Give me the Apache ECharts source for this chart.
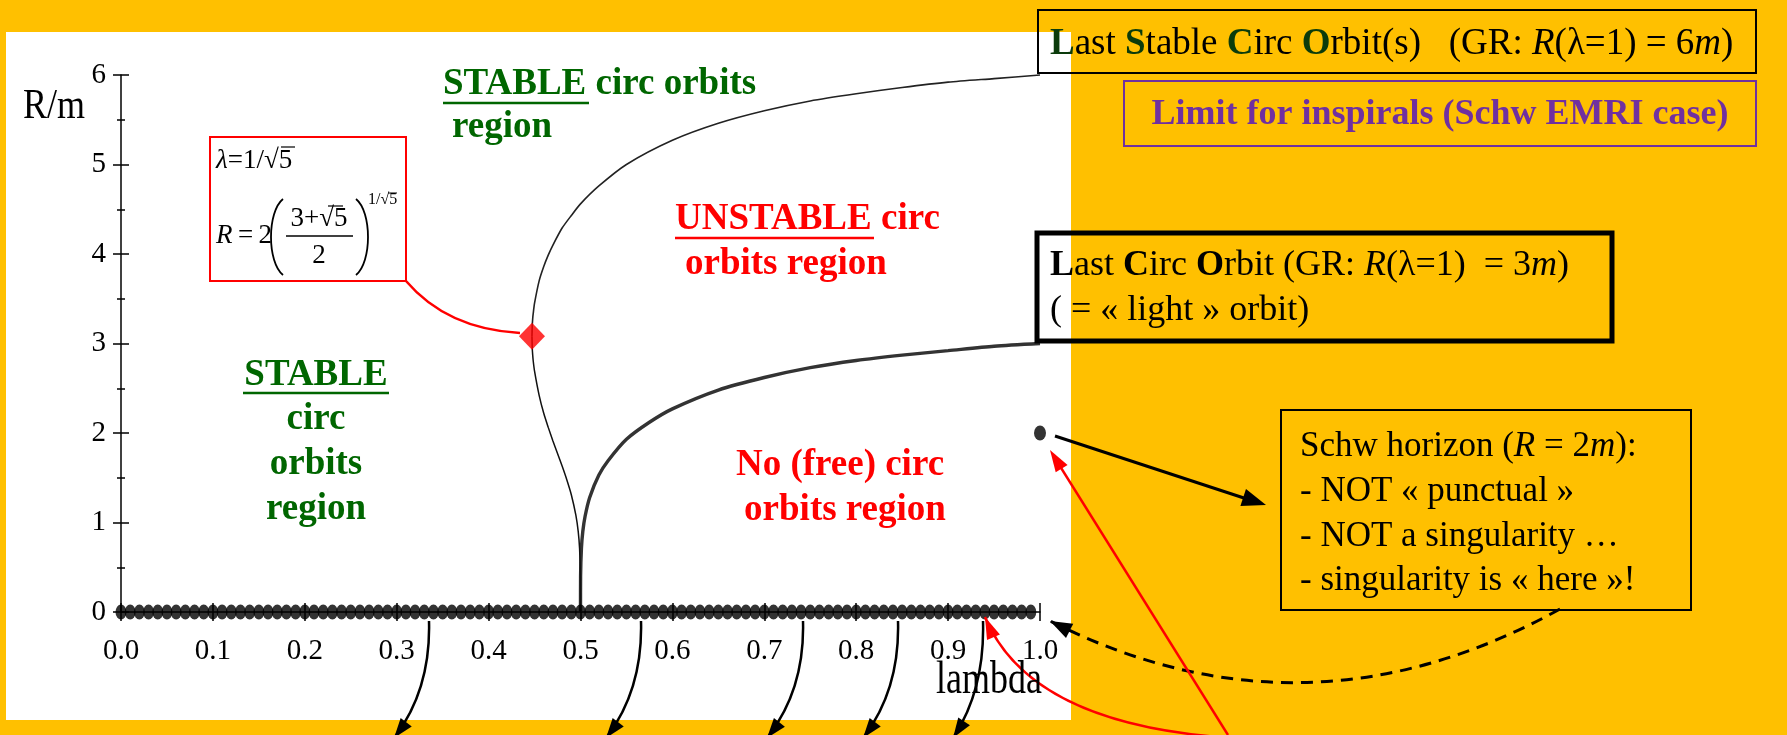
<!DOCTYPE html>
<html>
<head>
<meta charset="utf-8">
<script src="https://cdn.jsdelivr.net/npm/echarts@6/dist/echarts.min.js"></script>
<style>
  html, body { margin: 0; padding: 0; background: #FFC000; }
  #panel { position: absolute; left: 6px; top: 32px; width: 1065px; height: 688px; background: #fff; }
  #main { position: absolute; left: 0; top: 0; width: 1787px; height: 735px; }
</style>
</head>
<body>
<div id="panel"></div>
<div id="main"></div>
<script>
var SERIF = '"Liberation Serif", "Times New Roman", serif';

// light ring / last circular orbit (lambda, R/m)
var lcoLam = [0.5, 0.5001, 0.501, 0.5025, 0.505, 0.51, 0.52, 0.53, 0.55, 0.575, 0.6, 0.65, 0.7, 0.75, 0.8, 0.85, 0.9, 0.95, 1.0];
var lcoR   = [0, 0.40, 0.71, 0.90, 1.07, 1.28, 1.53, 1.69, 1.93, 2.12, 2.27, 2.48, 2.62, 2.73, 2.81, 2.87, 2.92, 2.97, 3.0];

// marginally stable orbits, lower branch (from lambda=0.5 up to the diamond)
var iscoLowLam = [0.5, 0.4999, 0.499, 0.4975, 0.495, 0.49, 0.485, 0.48, 0.475, 0.47, 0.465, 0.46, 0.455, 0.45, 0.4485, 0.448, 0.4475, 0.4472];
var iscoLowR   = [0, 0.40, 0.71, 0.90, 1.08, 1.31, 1.48, 1.63, 1.77, 1.91, 2.06, 2.22, 2.42, 2.69, 2.81, 2.87, 2.95, 3.08];

// last stable circular orbit, upper branch
var iscoUpLam = [0.4472, 0.4475, 0.448, 0.4485, 0.45, 0.455, 0.46, 0.465, 0.47, 0.48, 0.49, 0.5, 0.52, 0.55, 0.6, 0.65, 0.7, 0.75, 0.8, 0.85, 0.9, 0.95, 1.0];
var iscoUpR   = [3.08, 3.20, 3.28, 3.33, 3.45, 3.70, 3.86, 3.99, 4.10, 4.29, 4.43, 4.56, 4.76, 5.00, 5.27, 5.46, 5.60, 5.71, 5.79, 5.86, 5.92, 5.96, 6.0];

// singularity R = 0, sampled dots along the axis
var singLam = [0,0.01,0.02,0.03,0.04,0.05,0.06,0.07,0.08,0.09,
  0.1,0.11,0.12,0.13,0.14,0.15,0.16,0.17,0.18,0.19,
  0.2,0.21,0.22,0.23,0.24,0.25,0.26,0.27,0.28,0.29,
  0.3,0.31,0.32,0.33,0.34,0.35,0.36,0.37,0.38,0.39,
  0.4,0.41,0.42,0.43,0.44,0.45,0.46,0.47,0.48,0.49,
  0.5,0.51,0.52,0.53,0.54,0.55,0.56,0.57,0.58,0.59,
  0.6,0.61,0.62,0.63,0.64,0.65,0.66,0.67,0.68,0.69,
  0.7,0.71,0.72,0.73,0.74,0.75,0.76,0.77,0.78,0.79,
  0.8,0.81,0.82,0.83,0.84,0.85,0.86,0.87,0.88,0.89,
  0.9,0.91,0.92,0.93,0.94,0.95,0.96,0.97,0.98,0.99];
var singR = 0;

var criticalPt = [0.4472, 3.08];   // lambda = 1/sqrt5
var horizonPt = [1.0, 2.0];        // Schwarzschild horizon

function zip(xs, ys) { return xs.map(function (x, i) { return [x, ys[i]]; }); }

function font(size, weight, style) {
  return (style || 'normal') + ' ' + (weight || 'normal') + ' ' + size + 'px ' + SERIF;
}

// text placed by its baseline
function txt(x, base, text, size, o) {
  o = o || {};
  var sy = o.sy || 1;
  return {
    type: 'text', x: x, y: base - 0.34 * size * sy, scaleY: sy, z: 20,
    style: {
      text: text, fill: o.color || '#000', font: font(size, o.weight, o.fstyle),
      align: o.align || 'left', textAlign: o.align || 'left',
      verticalAlign: 'middle', textVerticalAlign: 'middle',
      rich: o.rich
    }
  };
}
function ln(x1, y1, x2, y2, color, lw, dash) {
  return { type: 'line', z: 20, shape: { x1: x1, y1: y1, x2: x2, y2: y2 },
    style: { stroke: color, lineWidth: lw, lineDash: dash || null } };
}
function box(x, y, w, h, color, lw) {
  return { type: 'rect', z: 20, shape: { x: x, y: y, width: w, height: h },
    style: { fill: 'none', stroke: color, lineWidth: lw } };
}
function head(tx, ty, fx, fy, len, wid, color) {
  var a = Math.atan2(ty - fy, tx - fx);
  var bx = tx - len * Math.cos(a), by = ty - len * Math.sin(a);
  var nx = -Math.sin(a) * wid / 2, ny = Math.cos(a) * wid / 2;
  return { type: 'polygon', z: 21, shape: { points: [[tx, ty], [bx + nx, by + ny], [bx - nx, by - ny]] },
    style: { fill: color } };
}
function curve(p0, c, p2, color, lw, dash) {
  return { type: 'bezierCurve', z: 20,
    shape: { x1: p0[0], y1: p0[1], x2: p2[0], y2: p2[1], cpx1: c[0], cpy1: c[1] },
    style: { fill: 'none', stroke: color, lineWidth: lw, lineDash: dash || null } };
}
function curvedArrow(p0, c, p2, color, lw, dash, hl, hw) {
  return [curve(p0, c, p2, color, lw, dash), head(p2[0], p2[1], c[0], c[1], hl, hw, color)];
}

var GREEN = '#006600', DKGREEN = '#0b3b0b', RED = '#ff0000', PURPLE = '#7030A0';

function rich(size, color) {
  return {
    g: { font: font(size, 'bold'), fill: DKGREEN },
    b: { font: font(size, 'bold'), fill: '#000' },
    i: { font: font(size, 'normal', 'italic'), fill: color || '#000' }
  };
}

var g = [];
// formula box
g.push(box(210, 137, 196, 144, RED, 2));
g.push(txt(216, 170, '{i|λ}=1/√5', 27, { rich: rich(27) }));
g.push(ln(281, 147, 295, 147, '#000', 1.2));
g.push(txt(216, 245, '{i|R}\u2009=\u20092', 27, { rich: rich(27) }));
g.push(txt(319, 228, '3+√5', 27, { align: 'center' }));
g.push(ln(328, 206, 343, 206, '#000', 1.2));
g.push(ln(286, 236, 353, 236, '#000', 1.3));
g.push(txt(319, 265, '2', 27, { align: 'center' }));
g.push({ type: 'bezierCurve', z: 20, shape: { x1: 283, y1: 199, x2: 283, y2: 275, cpx1: 267, cpy1: 212, cpx2: 267, cpy2: 262 },
  style: { fill: 'none', stroke: '#000', lineWidth: 1.8 } });
g.push({ type: 'bezierCurve', z: 20, shape: { x1: 356, y1: 199, x2: 356, y2: 275, cpx1: 372, cpy1: 212, cpx2: 372, cpy2: 262 },
  style: { fill: 'none', stroke: '#000', lineWidth: 1.8 } });
g.push(txt(368, 205, '1/√5', 16));
g.push(ln(388, 193, 397, 193, '#000', 1));
g.push(curve([406, 281], [447, 329], [520, 333], RED, 2.5));

// region labels
g.push(txt(443, 97, 'STABLE circ orbits', 37, { weight: 'bold', color: GREEN }));
g.push(ln(443, 103, 589, 103, GREEN, 2.5));
g.push(txt(452, 140, 'region', 37, { weight: 'bold', color: GREEN }));
g.push(txt(675, 232, 'UNSTABLE circ', 37, { weight: 'bold', color: RED }));
g.push(ln(675, 238, 874, 238, RED, 2.5));
g.push(txt(685, 277, 'orbits region', 37, { weight: 'bold', color: RED }));
g.push(txt(316, 388, 'STABLE', 37, { weight: 'bold', color: GREEN, align: 'center' }));
g.push(ln(243, 393, 389, 393, GREEN, 2.5));
g.push(txt(316, 432, 'circ', 37, { weight: 'bold', color: GREEN, align: 'center' }));
g.push(txt(316, 477, 'orbits', 37, { weight: 'bold', color: GREEN, align: 'center' }));
g.push(txt(316, 522, 'region', 37, { weight: 'bold', color: GREEN, align: 'center' }));
g.push(txt(840, 478, 'No (free) circ', 37, { weight: 'bold', color: RED, align: 'center' }));
g.push(txt(845, 523, 'orbits region', 37, { weight: 'bold', color: RED, align: 'center' }));

// right-hand boxes
g.push(box(1038, 10, 718, 63, '#000', 2));
g.push(txt(1050, 57, '{g|L}ast {g|S}table {g|C}irc {g|O}rbit(s)   (GR: {i|R}(λ=1) = 6{i|m})', 37, { rich: rich(37) }));
g.push(box(1124, 81, 632, 65, PURPLE, 2));
g.push(txt(1440, 127, 'Limit for inspirals (Schw EMRI case)', 36, { weight: 'bold', color: PURPLE, align: 'center' }));
g.push(box(1037, 233, 575, 108, '#000', 5));
g.push(txt(1050, 278, '{b|L}ast {b|C}irc {b|O}rbit (GR: {i|R}(λ=1)  = 3{i|m})', 36, { rich: rich(36) }));
g.push(txt(1050, 323, '( = « light » orbit)', 36));
g.push(box(1281, 410, 410, 200, '#000', 2));
g.push(txt(1300, 459, 'Schw horizon ({i|R} = 2{i|m}):', 35, { rich: rich(35) }));
g.push(txt(1300, 504, '- NOT « punctual »', 35));
g.push(txt(1300, 549, '- NOT a singularity …', 35));
g.push(txt(1300, 593, '- singularity is « here »!', 35));

// arrows
g.push(ln(1055, 436, 1250, 500, '#000', 3));
g.push(head(1266, 505, 1055, 436, 24, 18, '#000'));
g = g.concat(curvedArrow([1560, 609], [1305, 750], [1050, 621], '#000', 3, [12, 8], 22, 16));
g.push(ln(1228, 735, 1058, 463, RED, 2.5));
g.push(head(1050, 450, 1228, 735, 22, 14, RED));
g = g.concat(curvedArrow([1232, 738], [1030, 725], [985, 617], RED, 2.5, null, 22, 14));
var arrowFromX = [429, 641, 803, 898, 983];
var arrowToX = [394, 606, 767, 863, 953];
arrowFromX.forEach(function (sx, i) {
  g = g.concat(curvedArrow([sx, 621], [sx + 2, 690], [arrowToX[i], 738], '#000', 2.5, null, 20, 14));
});

// axis names
g.push(txt(23, 121, 'R/m', 36, { sy: 1.2 }));
g.push(txt(936, 697, 'lambda', 36, { sy: 1.3 }));

var axisLine = { show: true, lineStyle: { color: '#000', width: 1.5 } };
var tickStyle = { color: '#000', width: 1.5 };
var labelStyle = { fontFamily: SERIF, fontSize: 29, color: '#000' };

var chart = echarts.init(document.getElementById('main'));
chart.setOption({
  animation: false,
  grid: { left: 121, right: 747, top: 75, bottom: 123, containLabel: false, outerBoundsMode: 'none' },
  xAxis: [
    { type: 'value', min: 0, max: 1, interval: 0.1, position: 'bottom',
      axisLine: axisLine, axisTick: { show: true, length: 9, lineStyle: tickStyle },
      axisLabel: Object.assign({ margin: 25, formatter: function (v) { return v.toFixed(1); } }, labelStyle),
      splitLine: { show: false } },
    { type: 'value', min: 0, max: 1, interval: 0.1, position: 'bottom',
      axisLine: { show: false }, axisTick: { show: true, inside: true, length: 9, lineStyle: tickStyle },
      axisLabel: { show: false }, splitLine: { show: false } }
  ],
  yAxis: [
    { type: 'value', min: 0, max: 6, interval: 1, position: 'left',
      axisLine: axisLine, axisTick: { show: true, length: 8, lineStyle: tickStyle },
      minorTick: { show: true, splitNumber: 2, length: 4, lineStyle: tickStyle },
      axisLabel: Object.assign({ margin: 15, padding: [6, 0, 0, 0] }, labelStyle),
      splitLine: { show: false }, minorSplitLine: { show: false } },
    { type: 'value', min: 0, max: 6, interval: 1, position: 'left',
      axisLine: { show: false }, axisTick: { show: true, inside: true, length: 8, lineStyle: tickStyle },
      minorTick: { show: true, splitNumber: 2, length: 4, lineStyle: tickStyle },
      axisLabel: { show: false }, splitLine: { show: false }, minorSplitLine: { show: false } }
  ],
  series: [
    { name: 'light orbit', type: 'line', data: zip(lcoLam, lcoR), symbol: 'none', smooth: 0.25, clip: false,
      lineStyle: { color: '#333', width: 3.4 }, z: 3 },
    { name: 'marginal (lower)', type: 'line', data: zip(iscoLowLam, iscoLowR), symbol: 'none', smooth: 0.25, clip: false,
      lineStyle: { color: '#111', width: 1.5 }, z: 3 },
    { name: 'LSCO', type: 'line', data: zip(iscoUpLam, iscoUpR), symbol: 'none', smooth: 0.25, clip: false,
      lineStyle: { color: '#222', width: 1.6 }, z: 3 },
    { name: 'singularity', type: 'scatter', data: singLam.map(function (l) { return [l, singR]; }),
      symbol: 'circle', symbolSize: [11, 15], itemStyle: { color: '#000' }, z: 4 },
    { name: 'horizon', type: 'scatter', data: [horizonPt], symbol: 'circle', symbolSize: [12, 15],
      itemStyle: { color: '#000' }, z: 4 },
    { name: 'critical', type: 'scatter', data: [criticalPt], symbol: 'diamond', symbolSize: [26, 27],
      itemStyle: { color: RED }, z: 5 }
  ],
  graphic: g
});
</script>
</body>
</html>
